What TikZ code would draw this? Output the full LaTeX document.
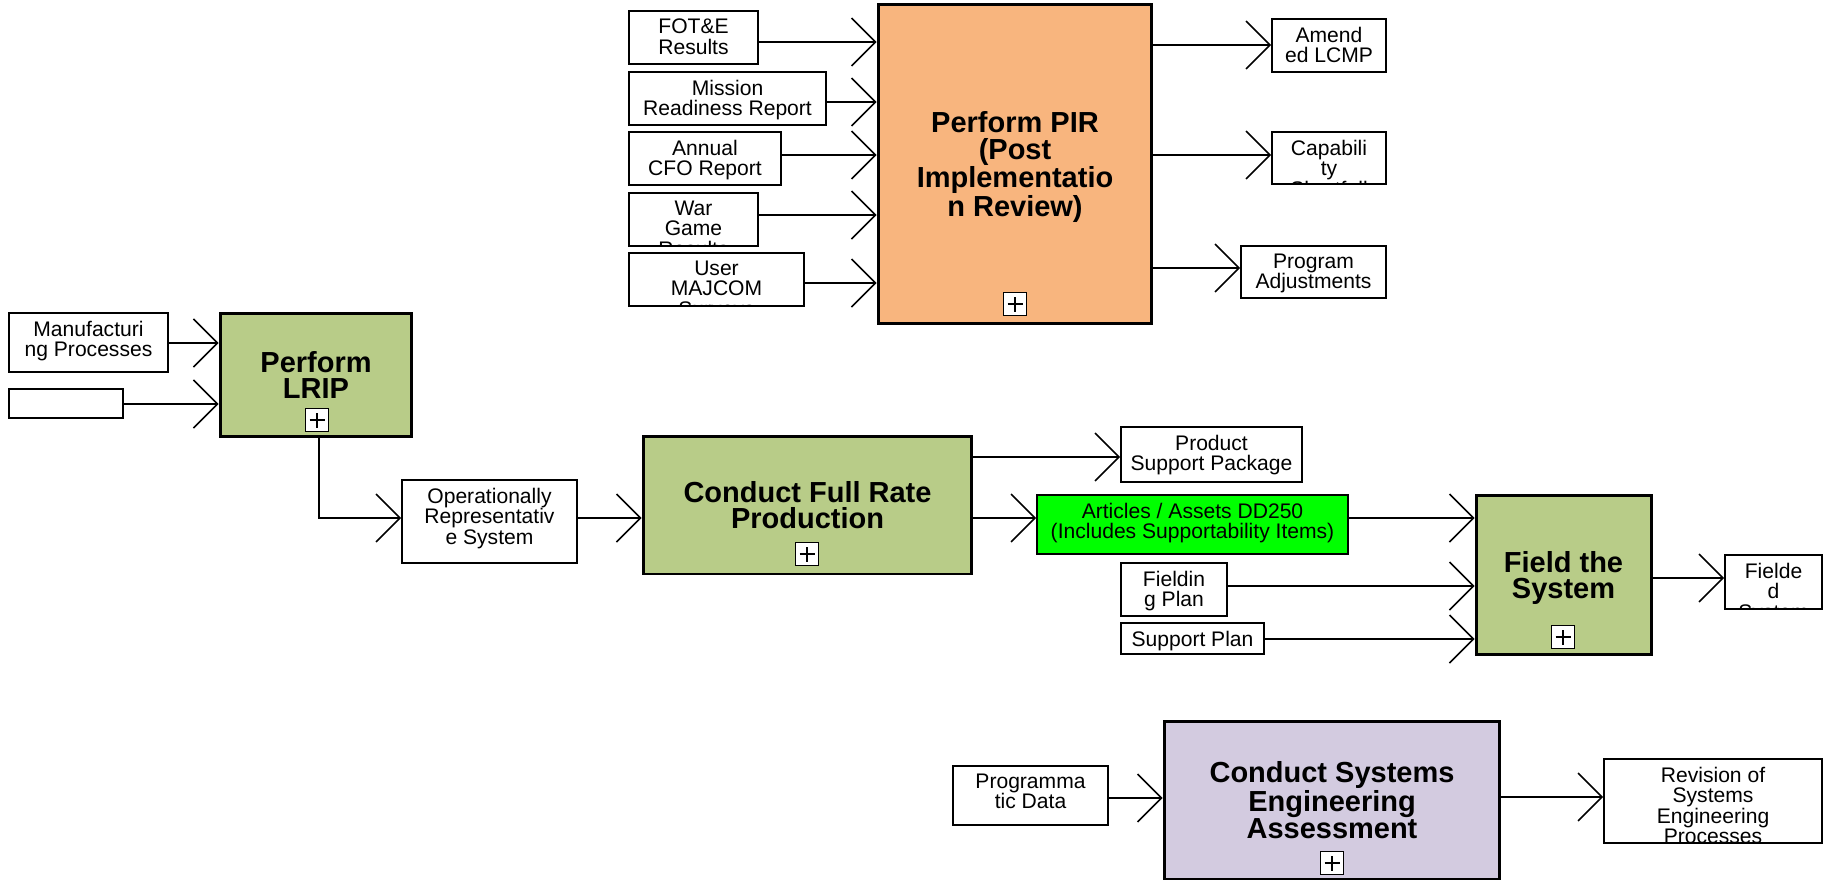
\documentclass[tikz,border=0pt]{standalone}
\usepackage{fontspec}
\setmainfont{Liberation Sans}
\usetikzlibrary{arrows.meta}

\definecolor{pirfill}{HTML}{F8B57E}
\definecolor{actfill}{HTML}{B8CC88}
\definecolor{seafill}{HTML}{D3CBE0}

\begin{document}
\begin{tikzpicture}[x=0.02cm, y=-0.02cm,
      flow/.style={line width=0.85pt, -{Straight Barb[length=0.48cm, width=0.96cm]}},
      txt/.style={font=\fontsize{12}{11.6}\selectfont, align=center, inner sep=0pt, minimum size=0pt},
      dat/.style={draw, line width=1.1pt, fill=white, inner sep=0pt,
        path picture={\node[txt, anchor=north] at ([yshift=-0.14cm]path picture bounding box.north) {#1};}},
      act/.style={draw, line width=1.7pt, inner sep=0pt, align=center, text depth=0pt,
        font=\bfseries\fontsize{16.5}{15.3}\selectfont},
      xbox/.style={draw, line width=1pt, fill=white, minimum size=0.46cm, inner sep=0pt,
        path picture={\draw[line width=1pt]
          ([xshift=-0.15cm]path picture bounding box.center) -- ([xshift=0.15cm]path picture bounding box.center)
          ([yshift=-0.15cm]path picture bounding box.center) -- ([yshift=0.15cm]path picture bounding box.center);}}]
      \useasboundingbox (0,0) rectangle (1824,882);

      \node[act, fill=pirfill, minimum width=5.48cm, minimum height=6.38cm] (pir) at (1015,164) {Perform PIR\\(Post\\Implementatio\\n Review)};
      \node[xbox] (pirx) at (1015,304) {};
      \node[dat={FOT\&E\\Results}, minimum width=2.58cm, minimum height=1.06cm] (fote) at (693.5,37.5) {};
      \node[dat={Mission\\Readiness Report}, minimum width=3.94cm, minimum height=1.06cm] (mrr) at (727.5,98.5) {};
      \node[dat={Annual\\CFO Report}, minimum width=3.04cm, minimum height=1.06cm] (cfo) at (705,158.5) {};
      \node[dat={War\\Game\\Results}, minimum width=2.58cm, minimum height=1.06cm] (wargame) at (693.5,219.5) {};
      \node[dat={User\\MAJCOM\\Surveys}, minimum width=3.5cm, minimum height=1.06cm] (survey) at (716.5,279.5) {};
      \node[dat={Amend\\ed LCMP}, minimum width=2.28cm, minimum height=1.06cm] (lcmp) at (1329,45.5) {};
      \node[dat={Capabili\\ty\\Shortfall}, minimum width=2.28cm, minimum height=1.04cm] (gap) at (1329,158) {};
      \node[dat={Program\\Adjustments}, minimum width=2.9cm, minimum height=1.04cm] (adjust) at (1313.5,272) {};
      \draw[flow] (fote.east |- 0,42) -- (pir.west |- 0,42);
      \draw[flow] (mrr.east |- 0,102) -- (pir.west |- 0,102);
      \draw[flow] (cfo.east |- 0,155) -- (pir.west |- 0,155);
      \draw[flow] (wargame.east |- 0,215) -- (pir.west |- 0,215);
      \draw[flow] (survey.east |- 0,283) -- (pir.west |- 0,283);
      \draw[flow] (pir.east |- 0,45) -- (lcmp.west |- 0,45);
      \draw[flow] (pir.east |- 0,155) -- (gap.west |- 0,155);
      \draw[flow] (pir.east |- 0,268) -- (adjust.west |- 0,268);

      \node[act, fill=actfill, minimum width=3.84cm, minimum height=2.48cm] (lrip) at (316,375) {Perform\\LRIP};
      \node[xbox] (lripx) at (317,420) {};
      \node[dat={Manufacturi\\ng Processes}, minimum width=3.18cm, minimum height=1.18cm] (manuf) at (88.5,342.5) {};
      \node[dat={}, minimum width=2.28cm, minimum height=0.58cm] (blank) at (66,403.5) {};
      \draw[flow] (manuf.east |- 0,343) -- (lrip.west |- 0,343);
      \draw[flow] (blank.east |- 0,404) -- (lrip.west |- 0,404);

      \node[dat={Operationally\\Representativ\\e System}, minimum width=3.5cm, minimum height=1.66cm] (ors) at (489.5,521.5) {};
      \draw[flow] (lrip.south -| 319,0) |- (ors.west |- 0,518);

      \node[act, fill=actfill, minimum width=6.58cm, minimum height=2.76cm] (frp) at (807.5,505) {Conduct Full Rate\\Production};
      \node[xbox] (frpx) at (807,554) {};
      \draw[flow] (ors.east |- 0,518) -- (frp.west |- 0,518);
      \node[dat={Product\\Support Package}, minimum width=3.62cm, minimum height=1.1cm] (psp) at (1211.5,454.5) {};
      \node[dat={Articles / Assets DD250\\(Includes Supportability Items)}, fill=green, minimum width=6.22cm, minimum height=1.18cm] (dd250) at (1192.5,524.5) {};
      \draw[flow] (frp.east |- 0,457) -- (psp.west |- 0,457);
      \draw[flow] (frp.east |- 0,518) -- (dd250.west |- 0,518);

      \node[act, fill=actfill, minimum width=3.5cm, minimum height=3.2cm] (field) at (1563.5,575) {Field the\\System};
      \node[xbox] (fieldx) at (1563,637) {};
      \node[dat={Fieldin\\g Plan}, minimum width=2.12cm, minimum height=1.06cm] (fplan) at (1174,589.5) {};
      \node[dat={Support Plan}, minimum width=2.86cm, minimum height=0.62cm] (splan) at (1192.5,638.5) {};
      \node[dat={Fielde\\d\\System}, minimum width=1.94cm, minimum height=1.08cm] (fielded) at (1773.5,582) {};
      \draw[flow] (dd250.east |- 0,518) -- (field.west |- 0,518);
      \draw[flow] (fplan.east |- 0,586) -- (field.west |- 0,586);
      \draw[flow] (splan.east |- 0,639) -- (field.west |- 0,639);
      \draw[flow] (field.east |- 0,578) -- (fielded.west |- 0,578);

      \node[act, fill=seafill, minimum width=6.72cm, minimum height=3.16cm] (sea) at (1332,800) {Conduct Systems\\Engineering\\Assessment};
      \node[xbox] (seax) at (1332,863) {};
      \node[dat={Programma\\tic Data}, minimum width=3.1cm, minimum height=1.18cm] (pdata) at (1030.5,795.5) {};
      \node[dat={Revision of\\Systems\\Engineering\\Processes}, minimum width=4.36cm, minimum height=1.68cm] (rev) at (1713,801) {};
      \draw[flow] (pdata.east |- 0,798) -- (sea.west |- 0,798);
      \draw[flow] (sea.east |- 0,797) -- (rev.west |- 0,797);
    \end{tikzpicture}
\end{document}
